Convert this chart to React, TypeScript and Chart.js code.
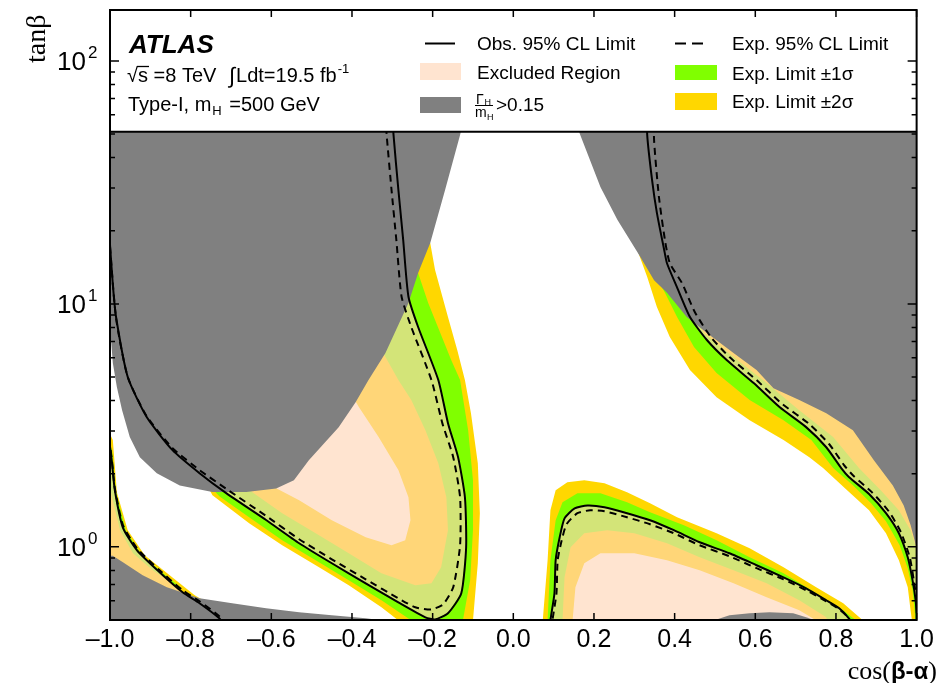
import React, { useEffect, useRef } from 'react';
import { Chart, registerables } from 'chart.js';

Chart.register(...registerables);

type P = [number, number];

// ---------- axes ----------
const X_MIN = -1;
const X_MAX = 1;
const Y_MIN = 0.5;
const Y_MAX = 162;
const LEGEND_FLOOR = 51.1;
const X_TICKS = [-1, -0.8, -0.6, -0.4, -0.2, 0, 0.2, 0.4, 0.6, 0.8, 1];
const Y_DECADES: [number, string][] = [[1, '0'], [10, '1'], [100, '2']];
const Y_MINOR = [0.5, 0.6, 0.7, 0.8, 0.9, 2, 3, 4, 5, 6, 7, 8, 9, 20, 30, 40, 50, 60, 70, 80, 90];

// ---------- Gamma_H / m_H > 0.15 regions ----------
const GRAY_LEFT: P[] = [
  [-1.05, 200], [-1.02, 7.6], [-0.998, 7.3], [-0.993, 5.71], [-0.983, 4.55], [-0.97, 3.65],
  [-0.951, 2.83], [-0.926, 2.34], [-0.884, 2.01], [-0.827, 1.79], [-0.746, 1.68], [-0.662, 1.68],
  [-0.588, 1.74], [-0.544, 1.88], [-0.507, 2.27], [-0.433, 3.11], [-0.391, 3.94], [-0.359, 4.86],
  [-0.317, 6.28], [-0.26, 10.08], [-0.236, 13.4], [-0.206, 17.8], [-0.169, 29.5], [-0.132, 49.6],
  [-0.112, 69], [-0.1, 200],
];
const GRAY_LEFT_BOTTOM: P[] = [
  [-1.05, 0.92], [-0.993, 0.92], [-0.968, 0.864], [-0.919, 0.764], [-0.859, 0.682], [-0.778, 0.614],
  [-0.697, 0.586], [-0.613, 0.559], [-0.531, 0.538], [-0.45, 0.523], [-0.366, 0.508], [-0.309, 0.494],
  [-0.3, 0.4], [-1.05, 0.4],
];
const GRAY_RIGHT: P[] = [
  [0.12, 200], [0.134, 69], [0.166, 49.6], [0.216, 30.3], [0.258, 22.2], [0.312, 15.9], [0.349, 12.5],
  [0.381, 11.1], [0.43, 8.83], [0.48, 7.59], [0.546, 6.28], [0.603, 5.34], [0.645, 4.5], [0.709, 4.02],
  [0.776, 3.55], [0.842, 3.02], [0.894, 2.27], [0.941, 1.79], [0.968, 1.48], [0.985, 1.23], [1.0, 0.987],
  [1.05, 0.95], [1.05, 200],
];
const GRAY_RIGHT_BOTTOM: P[] = [
  [0.47, 0.45], [0.497, 0.498], [0.536, 0.523], [0.586, 0.533], [0.635, 0.538], [0.694, 0.533],
  [0.726, 0.513], [0.76, 0.49], [0.77, 0.45],
];

// ---------- observed (solid) and expected (dashed) limits ----------
const OBS_TONGUE: P[] = [
  [-1.0, 17.5], [-0.993, 12.0], [-0.985, 8.83], [-0.956, 5.0], [-0.909, 3.42], [-0.845, 2.5],
  [-0.778, 2.01], [-0.711, 1.66], [-0.613, 1.29], [-0.531, 1.035], [-0.45, 0.856], [-0.366, 0.708],
  [-0.285, 0.591], [-0.218, 0.513], [-0.194, 0.503], [-0.162, 0.533], [-0.129, 0.644], [-0.117, 0.996],
  [-0.12, 1.6], [-0.137, 2.34], [-0.162, 3.23], [-0.186, 4.86], [-0.236, 8.03], [-0.26, 10.7],
  [-0.273, 18.3], [-0.285, 29.5], [-0.297, 49.6], [-0.302, 69],
];
const EXP_TONGUE: P[] = [
  [-1.0, 17.2], [-0.985, 8.75], [-0.956, 5.0], [-0.909, 3.45], [-0.845, 2.55], [-0.778, 2.07],
  [-0.711, 1.73], [-0.613, 1.34], [-0.531, 1.075], [-0.45, 0.889], [-0.366, 0.735], [-0.285, 0.614],
  [-0.243, 0.564], [-0.203, 0.553], [-0.174, 0.58], [-0.149, 0.682], [-0.132, 1.015], [-0.132, 1.6],
  [-0.149, 2.34], [-0.176, 3.23], [-0.203, 4.86], [-0.253, 8.03], [-0.277, 10.7], [-0.29, 18.3],
  [-0.302, 29.5], [-0.314, 49.6], [-0.319, 69],
];
const OBS_LOWLEFT: P[] = [
  [-1.002, 2.75], [-0.995, 2.21], [-0.988, 1.71], [-0.968, 1.2], [-0.933, 0.968], [-0.877, 0.786],
  [-0.82, 0.65], [-0.778, 0.586], [-0.729, 0.508], [-0.716, 0.475],
];
const EXP_LOWLEFT: P[] = [
  [-1.002, 2.8], [-0.995, 2.25], [-0.988, 1.74], [-0.968, 1.23], [-0.933, 0.987], [-0.877, 0.801],
  [-0.82, 0.663], [-0.778, 0.597], [-0.729, 0.518], [-0.716, 0.484],
];
const OBS_RIGHTLOW: P[] = [
  [0.09, 0.453], [0.092, 0.498], [0.102, 0.644], [0.105, 0.881], [0.115, 1.095], [0.127, 1.31],
  [0.152, 1.44], [0.184, 1.48], [0.226, 1.456], [0.282, 1.376], [0.339, 1.287], [0.398, 1.171],
  [0.462, 1.045], [0.536, 0.941], [0.603, 0.84], [0.67, 0.749], [0.726, 0.675], [0.776, 0.603],
  [0.808, 0.559], [0.832, 0.508], [0.845, 0.466],
];
const EXP_RIGHTLOW: P[] = [
  [0.095, 0.453], [0.097, 0.498], [0.107, 0.644], [0.11, 0.881], [0.12, 1.065], [0.132, 1.239],
  [0.159, 1.376], [0.191, 1.415], [0.226, 1.402], [0.282, 1.324], [0.339, 1.239], [0.398, 1.138],
  [0.462, 1.015], [0.536, 0.915], [0.603, 0.817], [0.67, 0.735], [0.726, 0.663], [0.776, 0.597],
  [0.808, 0.553], [0.832, 0.508], [0.842, 0.466],
];
const OBS_RIGHTUP: P[] = [
  [0.332, 69], [0.332, 49.6], [0.344, 32.4], [0.356, 23.7], [0.374, 16.7], [0.381, 14.7], [0.406, 11.7],
  [0.438, 8.83], [0.48, 7.1], [0.529, 5.87], [0.596, 4.72], [0.66, 3.76], [0.726, 3.11], [0.776, 2.57],
  [0.813, 2.11], [0.832, 1.94], [0.882, 1.65], [0.924, 1.376], [0.956, 1.138], [0.978, 0.906],
  [0.99, 0.728], [0.9975, 0.603], [1.0, 0.533], [1.002, 0.475],
];
const EXP_RIGHTUP: P[] = [
  [0.349, 69], [0.349, 47.3], [0.361, 27.6], [0.376, 18.3], [0.388, 14.7], [0.418, 12.2], [0.45, 9.26],
  [0.49, 7.3], [0.536, 6.04], [0.603, 4.86], [0.667, 3.87], [0.734, 3.2], [0.783, 2.65], [0.82, 2.17],
  [0.842, 1.97], [0.889, 1.68], [0.931, 1.4], [0.961, 1.149], [0.983, 0.906], [0.993, 0.728],
  [1.0, 0.603], [1.005, 0.475],
];

// ---------- expected +-1 sigma / +-2 sigma band edges ----------
const TONGUE_2S_OUT: P[] = [
  [-0.766, 1.881], [-0.746, 1.632], [-0.655, 1.251], [-0.573, 1.015], [-0.49, 0.84], [-0.408, 0.695],
  [-0.327, 0.564], [-0.285, 0.498], [-0.26, 0.412], [-0.112, 0.412], [-0.1, 0.498], [-0.088, 0.856],
  [-0.083, 1.376], [-0.088, 2.21], [-0.105, 3.55], [-0.12, 4.86], [-0.139, 6.46], [-0.162, 8.83],
  [-0.194, 13.8], [-0.206, 17.8], [-0.223, 20.2], [-0.531, 10.4],
];
const TONGUE_1S_OUT: P[] = [
  [-0.766, 1.881], [-0.729, 1.616], [-0.655, 1.324], [-0.573, 1.065], [-0.49, 0.881], [-0.408, 0.728],
  [-0.327, 0.603], [-0.253, 0.498], [-0.236, 0.412], [-0.132, 0.412], [-0.125, 0.498], [-0.107, 0.728],
  [-0.1, 1.171], [-0.1, 1.881], [-0.112, 3.02], [-0.132, 4.86], [-0.154, 5.87], [-0.184, 7.81],
  [-0.211, 10.08], [-0.236, 13.4], [-0.248, 14.5], [-0.531, 10.4],
];
const TONGUE_1S_IN: P[] = [
  [-0.667, 1.794], [-0.647, 1.679], [-0.573, 1.376], [-0.49, 1.138], [-0.408, 0.941], [-0.327, 0.779],
  [-0.243, 0.695], [-0.203, 0.708], [-0.179, 0.824], [-0.162, 1.171], [-0.166, 1.601], [-0.186, 2.21],
  [-0.218, 3.02], [-0.253, 4.02], [-0.285, 4.86], [-0.317, 6.04], [-0.334, 6.77],
];
const TONGUE_2S_IN: P[] = [
  [-0.605, 1.918], [-0.588, 1.744], [-0.531, 1.556], [-0.45, 1.287], [-0.366, 1.095], [-0.302, 1.015],
  [-0.268, 1.065], [-0.255, 1.287], [-0.26, 1.601], [-0.285, 2.07], [-0.334, 2.83], [-0.383, 3.76],
  [-0.396, 4.1],
];
const LOWLEFT_2S_OUT: P[] = [
  [-1.025, 3.17], [-1.01, 3.17], [-0.993, 2.75], [-0.983, 1.679], [-0.956, 1.171], [-0.914, 0.924],
  [-0.852, 0.764], [-0.79, 0.632], [-0.773, 0.608], [-0.655, 0.538], [-0.655, 0.412], [-1.025, 0.412],
];
const LOWLEFT_1S_OUT: P[] = [
  [-1.025, 2.88], [-1.01, 2.88], [-0.995, 2.5], [-0.985, 1.679], [-0.961, 1.171], [-0.921, 0.924],
  [-0.859, 0.757], [-0.798, 0.626], [-0.778, 0.597], [-0.655, 0.528], [-0.655, 0.412], [-1.025, 0.412],
];
const LOWLEFT_1S_IN: P[] = [
  [-1.025, 2.07], [-1.007, 2.07], [-0.995, 1.601], [-0.975, 1.171], [-0.943, 0.941], [-0.894, 0.801],
  [-0.845, 0.708], [-0.81, 0.663], [-0.753, 0.569], [-0.753, 0.412], [-1.025, 0.412],
];
const RIGHTLOW_2S_OUT: P[] = [
  [0.073, 0.412], [0.073, 0.498], [0.085, 0.881], [0.092, 1.415], [0.105, 1.711], [0.134, 1.846],
  [0.176, 1.881], [0.226, 1.829], [0.282, 1.679], [0.339, 1.512], [0.406, 1.324], [0.504, 1.138],
  [0.586, 0.987], [0.67, 0.824], [0.751, 0.682], [0.818, 0.586], [0.867, 0.498], [0.879, 0.412],
];
const RIGHTLOW_1S_OUT: P[] = [
  [0.085, 0.412], [0.085, 0.498], [0.092, 0.881], [0.105, 1.287], [0.122, 1.526], [0.159, 1.663],
  [0.216, 1.663], [0.282, 1.526], [0.339, 1.389], [0.423, 1.228], [0.504, 1.065], [0.586, 0.906],
  [0.67, 0.779], [0.751, 0.644], [0.808, 0.564], [0.85, 0.498], [0.862, 0.412],
];
const RIGHTLOW_1S_IN: P[] = [
  [0.122, 0.412], [0.122, 0.498], [0.127, 0.749], [0.142, 0.996], [0.176, 1.138], [0.233, 1.171],
  [0.3, 1.138], [0.381, 1.035], [0.462, 0.906], [0.546, 0.801], [0.628, 0.708], [0.709, 0.603],
  [0.776, 0.513], [0.788, 0.412],
];
const RIGHTLOW_2S_IN: P[] = [
  [0.147, 0.412], [0.147, 0.498], [0.154, 0.682], [0.176, 0.856], [0.216, 0.941], [0.3, 0.941],
  [0.381, 0.881], [0.462, 0.801], [0.546, 0.708], [0.628, 0.62], [0.709, 0.548], [0.751, 0.498],
  [0.758, 0.412],
];
const RIGHTUP_2S_OUT: P[] = [
  [0.287, 21.1], [0.312, 15.9], [0.332, 12.9], [0.356, 9.71], [0.388, 7.3], [0.438, 5.34], [0.504, 4.13],
  [0.586, 3.32], [0.67, 2.75], [0.734, 2.34], [0.768, 2.11], [0.825, 1.727], [0.882, 1.415], [0.924, 1.138],
  [0.956, 0.881], [0.978, 0.682], [0.985, 0.548], [0.99, 0.475], [0.993, 0.412], [1.06, 0.412],
  [1.06, 200], [0.45, 200],
];
const RIGHTUP_1S_OUT: P[] = [
  [0.356, 12.8], [0.376, 11.1], [0.406, 8.83], [0.448, 6.64], [0.504, 5.19], [0.586, 4.02], [0.67, 3.32],
  [0.739, 2.75], [0.793, 2.11], [0.842, 1.794], [0.887, 1.512], [0.924, 1.275], [0.958, 1.015],
  [0.978, 0.817], [0.99, 0.663], [0.995, 0.548], [0.9975, 0.475], [0.998, 0.412], [1.06, 0.412],
  [1.06, 200], [0.45, 200],
];
const RIGHTUP_1S_IN: P[] = [
  [0.455, 8.58], [0.472, 7.59], [0.546, 6.04], [0.628, 4.72], [0.709, 3.65], [0.793, 2.83], [0.857, 2.11],
  [0.911, 1.711], [0.956, 1.415], [0.985, 1.171], [1.0, 0.987], [1.035, 0.881], [1.06, 0.881],
  [1.06, 200], [0.45, 200],
];

// ---------- styles ----------
const YELLOW = '#ffd700';
const GREEN = '#80ff00';
const GRAY = '#808080';
const EXCL = 'rgba(255,214,183,0.655)';
const SANS = '"Liberation Sans", Arial, sans-serif';
const SERIF = '"Liberation Serif", "Times New Roman", serif';

const pts = (a: P[]) => a.map(([x, y]) => ({ x, y }));
const area = (label: string, a: P[], color: string, order: number) => ({
  label,
  data: pts(a),
  fill: 'shape',
  backgroundColor: color,
  borderColor: 'rgba(0,0,0,0)',
  borderWidth: 0,
  pointRadius: 0,
  pointHoverRadius: 0,
  tension: 0,
  order,
});
const curve = (label: string, a: P[], dashed: boolean) => ({
  label,
  data: pts(a),
  fill: false,
  borderColor: '#000',
  borderWidth: 2,
  borderDash: dashed ? [7, 5] : [],
  pointRadius: 0,
  pointHoverRadius: 0,
  tension: 0.2,
  order: 0,
});

function buildDatasets() {
  return [
    curve('Obs', OBS_TONGUE, false),
    curve('Exp', EXP_TONGUE, true),
    curve('Obs2', OBS_LOWLEFT, false),
    curve('Exp2', EXP_LOWLEFT, true),
    curve('Obs3', OBS_RIGHTLOW, false),
    curve('Exp3', EXP_RIGHTLOW, true),
    curve('Obs4', OBS_RIGHTUP, false),
    curve('Exp4', EXP_RIGHTUP, true),
    area('width1', GRAY_LEFT, GRAY, 10),
    area('width2', GRAY_LEFT_BOTTOM, GRAY, 10),
    area('width3', GRAY_RIGHT, GRAY, 10),
    area('width4', GRAY_RIGHT_BOTTOM, GRAY, 10),
    area('excl1', [...OBS_TONGUE, [-0.31, 200], [-1.05, 200], [-1.05, 17.5]], EXCL, 20),
    area('excl2', [...OBS_LOWLEFT, [-0.7, 0.4], [-1.05, 0.4], [-1.05, 2.75]], EXCL, 20),
    area('excl3', OBS_RIGHTLOW, EXCL, 20),
    area('excl4', [...OBS_RIGHTUP, [1.06, 0.4], [1.06, 200], [0.33, 200]], EXCL, 20),
    area('in2a', TONGUE_2S_IN, '#ffffff', 30),
    area('in2b', RIGHTLOW_2S_IN, '#ffffff', 30),
    area('in1a', TONGUE_1S_IN, YELLOW, 40),
    area('in1b', LOWLEFT_1S_IN, YELLOW, 40),
    area('in1c', RIGHTLOW_1S_IN, YELLOW, 40),
    area('in1d', RIGHTUP_1S_IN, YELLOW, 40),
    area('out1a', TONGUE_1S_OUT, GREEN, 50),
    area('out1b', LOWLEFT_1S_OUT, GREEN, 50),
    area('out1c', RIGHTLOW_1S_OUT, GREEN, 50),
    area('out1d', RIGHTUP_1S_OUT, GREEN, 50),
    area('out2a', TONGUE_2S_OUT, YELLOW, 60),
    area('out2b', LOWLEFT_2S_OUT, YELLOW, 60),
    area('out2c', RIGHTLOW_2S_OUT, YELLOW, 60),
    area('out2d', RIGHTUP_2S_OUT, YELLOW, 60),
  ];
}

const OFF = 8; // canvas sits at the body margin

function drawLegend(ctx: CanvasRenderingContext2D) {
  const o = OFF;
  ctx.fillStyle = '#000';
  ctx.strokeStyle = '#000';
  ctx.textAlign = 'left';
  ctx.textBaseline = 'alphabetic';

  ctx.font = `italic bold 26px ${SANS}`;
  ctx.fillText('ATLAS', 129 - o, 53 - o);

  // sqrt(s) line
  ctx.font = `20px ${SANS}`;
  let x = 127 - o;
  const b2 = 82 - o;
  ctx.fillText('\u221A', x, b2);
  x += ctx.measureText('\u221A').width;
  const sx = x;
  ctx.fillText('s', x, b2);
  x += ctx.measureText('s').width;
  ctx.lineWidth = 1.3;
  ctx.beginPath();
  ctx.moveTo(sx - 1, 66.5 - o);
  ctx.lineTo(x + 1, 66.5 - o);
  ctx.stroke();
  ctx.fillText(' =8 TeV', x, b2);
  x = 229 - o;
  ctx.font = `22px ${SANS}`;
  ctx.fillText('\u222B', x, b2 + 1);
  x += ctx.measureText('\u222B').width + 1;
  ctx.font = `20px ${SANS}`;
  ctx.fillText('Ldt=19.5 fb', x, b2);
  x += ctx.measureText('Ldt=19.5 fb').width;
  ctx.font = `13px ${SANS}`;
  ctx.fillText('-1', x + 1, 73 - o);

  // Type-I line
  ctx.font = `20px ${SANS}`;
  x = 128 - o;
  const b3 = 111 - o;
  ctx.fillText('Type-I, m', x, b3);
  x += ctx.measureText('Type-I, m').width;
  ctx.font = `13px ${SANS}`;
  ctx.fillText('H', x + 1, b3 + 4);
  x += ctx.measureText('H').width + 1;
  ctx.font = `20px ${SANS}`;
  ctx.fillText(' =500 GeV', x + 2, b3);

  // right-hand legend
  ctx.font = `19px ${SANS}`;
  ctx.lineWidth = 2;
  ctx.setLineDash([]);
  ctx.beginPath();
  ctx.moveTo(425 - o, 43.5 - o);
  ctx.lineTo(455 - o, 43.5 - o);
  ctx.stroke();
  ctx.fillText('Obs. 95% CL Limit', 477 - o, 50 - o);

  ctx.fillStyle = '#fff';
  ctx.fillRect(420 - o, 63 - o, 41, 17);
  ctx.fillStyle = EXCL;
  ctx.fillRect(420 - o, 63 - o, 41, 17);
  ctx.fillStyle = '#000';
  ctx.fillText('Excluded Region', 477 - o, 79 - o);

  ctx.fillStyle = GRAY;
  ctx.fillRect(420 - o, 97 - o, 41, 16);
  ctx.fillStyle = '#000';
  ctx.font = `14px ${SANS}`;
  ctx.fillText('\u0393', 476 - o, 103.5 - o);
  ctx.fillText('m', 475 - o, 117 - o);
  ctx.font = `9px ${SANS}`;
  ctx.fillText('H', 484.5 - o, 104.5 - o);
  ctx.fillText('H', 487 - o, 119.5 - o);
  ctx.lineWidth = 1;
  ctx.beginPath();
  ctx.moveTo(475 - o, 105.5 - o);
  ctx.lineTo(493 - o, 105.5 - o);
  ctx.stroke();
  ctx.font = `19px ${SANS}`;
  ctx.fillText('>0.15', 496 - o, 111 - o);

  ctx.lineWidth = 2;
  ctx.setLineDash([11, 6]);
  ctx.beginPath();
  ctx.moveTo(675 - o, 43.5 - o);
  ctx.lineTo(703 - o, 43.5 - o);
  ctx.stroke();
  ctx.setLineDash([]);
  ctx.fillText('Exp. 95% CL Limit', 732 - o, 50 - o);

  ctx.fillStyle = GREEN;
  ctx.fillRect(675 - o, 65 - o, 42, 15);
  ctx.fillStyle = '#000';
  ctx.fillText('Exp. Limit \u00B11\u03C3', 732 - o, 80 - o);
  ctx.fillStyle = YELLOW;
  ctx.fillRect(675 - o, 93 - o, 42, 17);
  ctx.fillStyle = '#000';
  ctx.fillText('Exp. Limit \u00B12\u03C3', 732 - o, 108 - o);
}

const decor = {
  id: 'decor',
  afterDatasetsDraw(chart: any) {
    const { ctx, chartArea: a, scales } = chart;
    const xs = scales.x;
    const ys = scales.y;
    const yl = ys.getPixelForValue(LEGEND_FLOOR);
    ctx.save();
    ctx.fillStyle = '#fff';
    ctx.fillRect(a.left, a.top, a.right - a.left, yl - a.top);
    ctx.strokeStyle = '#000';
    ctx.lineWidth = 2;
    ctx.beginPath();
    ctx.moveTo(a.left, yl);
    ctx.lineTo(a.right, yl);
    ctx.stroke();
    ctx.strokeRect(a.left, a.top, a.right - a.left, a.bottom - a.top);

    ctx.lineWidth = 1.5;
    ctx.beginPath();
    for (const v of X_TICKS) {
      const px = xs.getPixelForValue(v);
      ctx.moveTo(px, a.bottom);
      ctx.lineTo(px, a.bottom - 7);
      ctx.moveTo(px, a.top);
      ctx.lineTo(px, a.top + 7);
    }
    for (const [v] of Y_DECADES) {
      const py = ys.getPixelForValue(v);
      ctx.moveTo(a.left, py);
      ctx.lineTo(a.left + 9, py);
      ctx.moveTo(a.right, py);
      ctx.lineTo(a.right - 9, py);
    }
    for (const v of Y_MINOR) {
      const py = ys.getPixelForValue(v);
      ctx.moveTo(a.left, py);
      ctx.lineTo(a.left + 5, py);
      ctx.moveTo(a.right, py);
      ctx.lineTo(a.right - 5, py);
    }
    ctx.stroke();

    // y tick labels 10^n
    ctx.fillStyle = '#000';
    ctx.textBaseline = 'alphabetic';
    for (const [v, e] of Y_DECADES) {
      const py = ys.getPixelForValue(v);
      ctx.font = `26px ${SANS}`;
      ctx.textAlign = 'right';
      ctx.fillText('10', a.left - 24, py + 9);
      ctx.font = `17px ${SANS}`;
      ctx.textAlign = 'left';
      ctx.fillText(e, a.left - 22, py - 3);
    }

    // axis titles
    ctx.save();
    ctx.translate(45 - OFF, 63 - OFF);
    ctx.rotate(-Math.PI / 2);
    ctx.font = `28px ${SERIF}`;
    ctx.textAlign = 'left';
    ctx.fillText('tan\u03B2', 0, 0);
    ctx.restore();

    ctx.textAlign = 'left';
    const base = 679 - OFF;
    ctx.font = `26px ${SERIF}`;
    const w1 = ctx.measureText('cos(').width;
    const w3 = ctx.measureText(')').width;
    ctx.font = `bold 24px ${SANS}`;
    const w2 = ctx.measureText('\u03B2-\u03B1').width;
    let x0 = 937 - OFF - (w1 + w2 + w3);
    ctx.font = `26px ${SERIF}`;
    ctx.fillText('cos(', x0, base);
    x0 += w1;
    ctx.font = `bold 24px ${SANS}`;
    ctx.fillText('\u03B2-\u03B1', x0, base);
    x0 += w2;
    ctx.font = `26px ${SERIF}`;
    ctx.fillText(')', x0, base);

    drawLegend(ctx);
    ctx.restore();
  },
};

function fmtX(v: number) {
  const r = Math.round(v * 10) / 10;
  if (r === 0) return '0.0';
  return r < 0 ? '\u2013' + (-r).toFixed(1) : r.toFixed(1);
}

export default function App() {
  const ref = useRef<HTMLCanvasElement>(null);
  useEffect(() => {
    if (!ref.current) return;
    const chart = new Chart(ref.current, {
      type: 'line',
      data: { datasets: buildDatasets() as any },
      options: {
        animation: false,
        responsive: false,
        events: [],
        layout: { padding: { top: 2, right: 18, left: 0, bottom: 0 } },
        plugins: { legend: { display: false }, tooltip: { enabled: false } },
        scales: {
          x: {
            type: 'linear',
            min: X_MIN,
            max: X_MAX,
            grid: { display: false, drawTicks: false },
            border: { display: false },
            ticks: {
              stepSize: 0.2,
              autoSkip: false,
              maxRotation: 0,
              minRotation: 0,
              padding: 5,
              color: '#000',
              font: { size: 25, family: SANS },
              callback: (v: any) => fmtX(Number(v)),
            },
            afterFit: (s: any) => {
              s.height = 63;
            },
          },
          y: {
            type: 'logarithmic',
            min: Y_MIN,
            max: Y_MAX,
            grid: { display: false, drawTicks: false },
            border: { display: false },
            ticks: { display: false },
            afterFit: (s: any) => {
              s.width = 102;
            },
          },
        },
      } as any,
      plugins: [decor],
    });
    return () => chart.destroy();
  }, []);
  return <canvas ref={ref} width={931} height={675} style={{ display: 'block' }} />;
}
